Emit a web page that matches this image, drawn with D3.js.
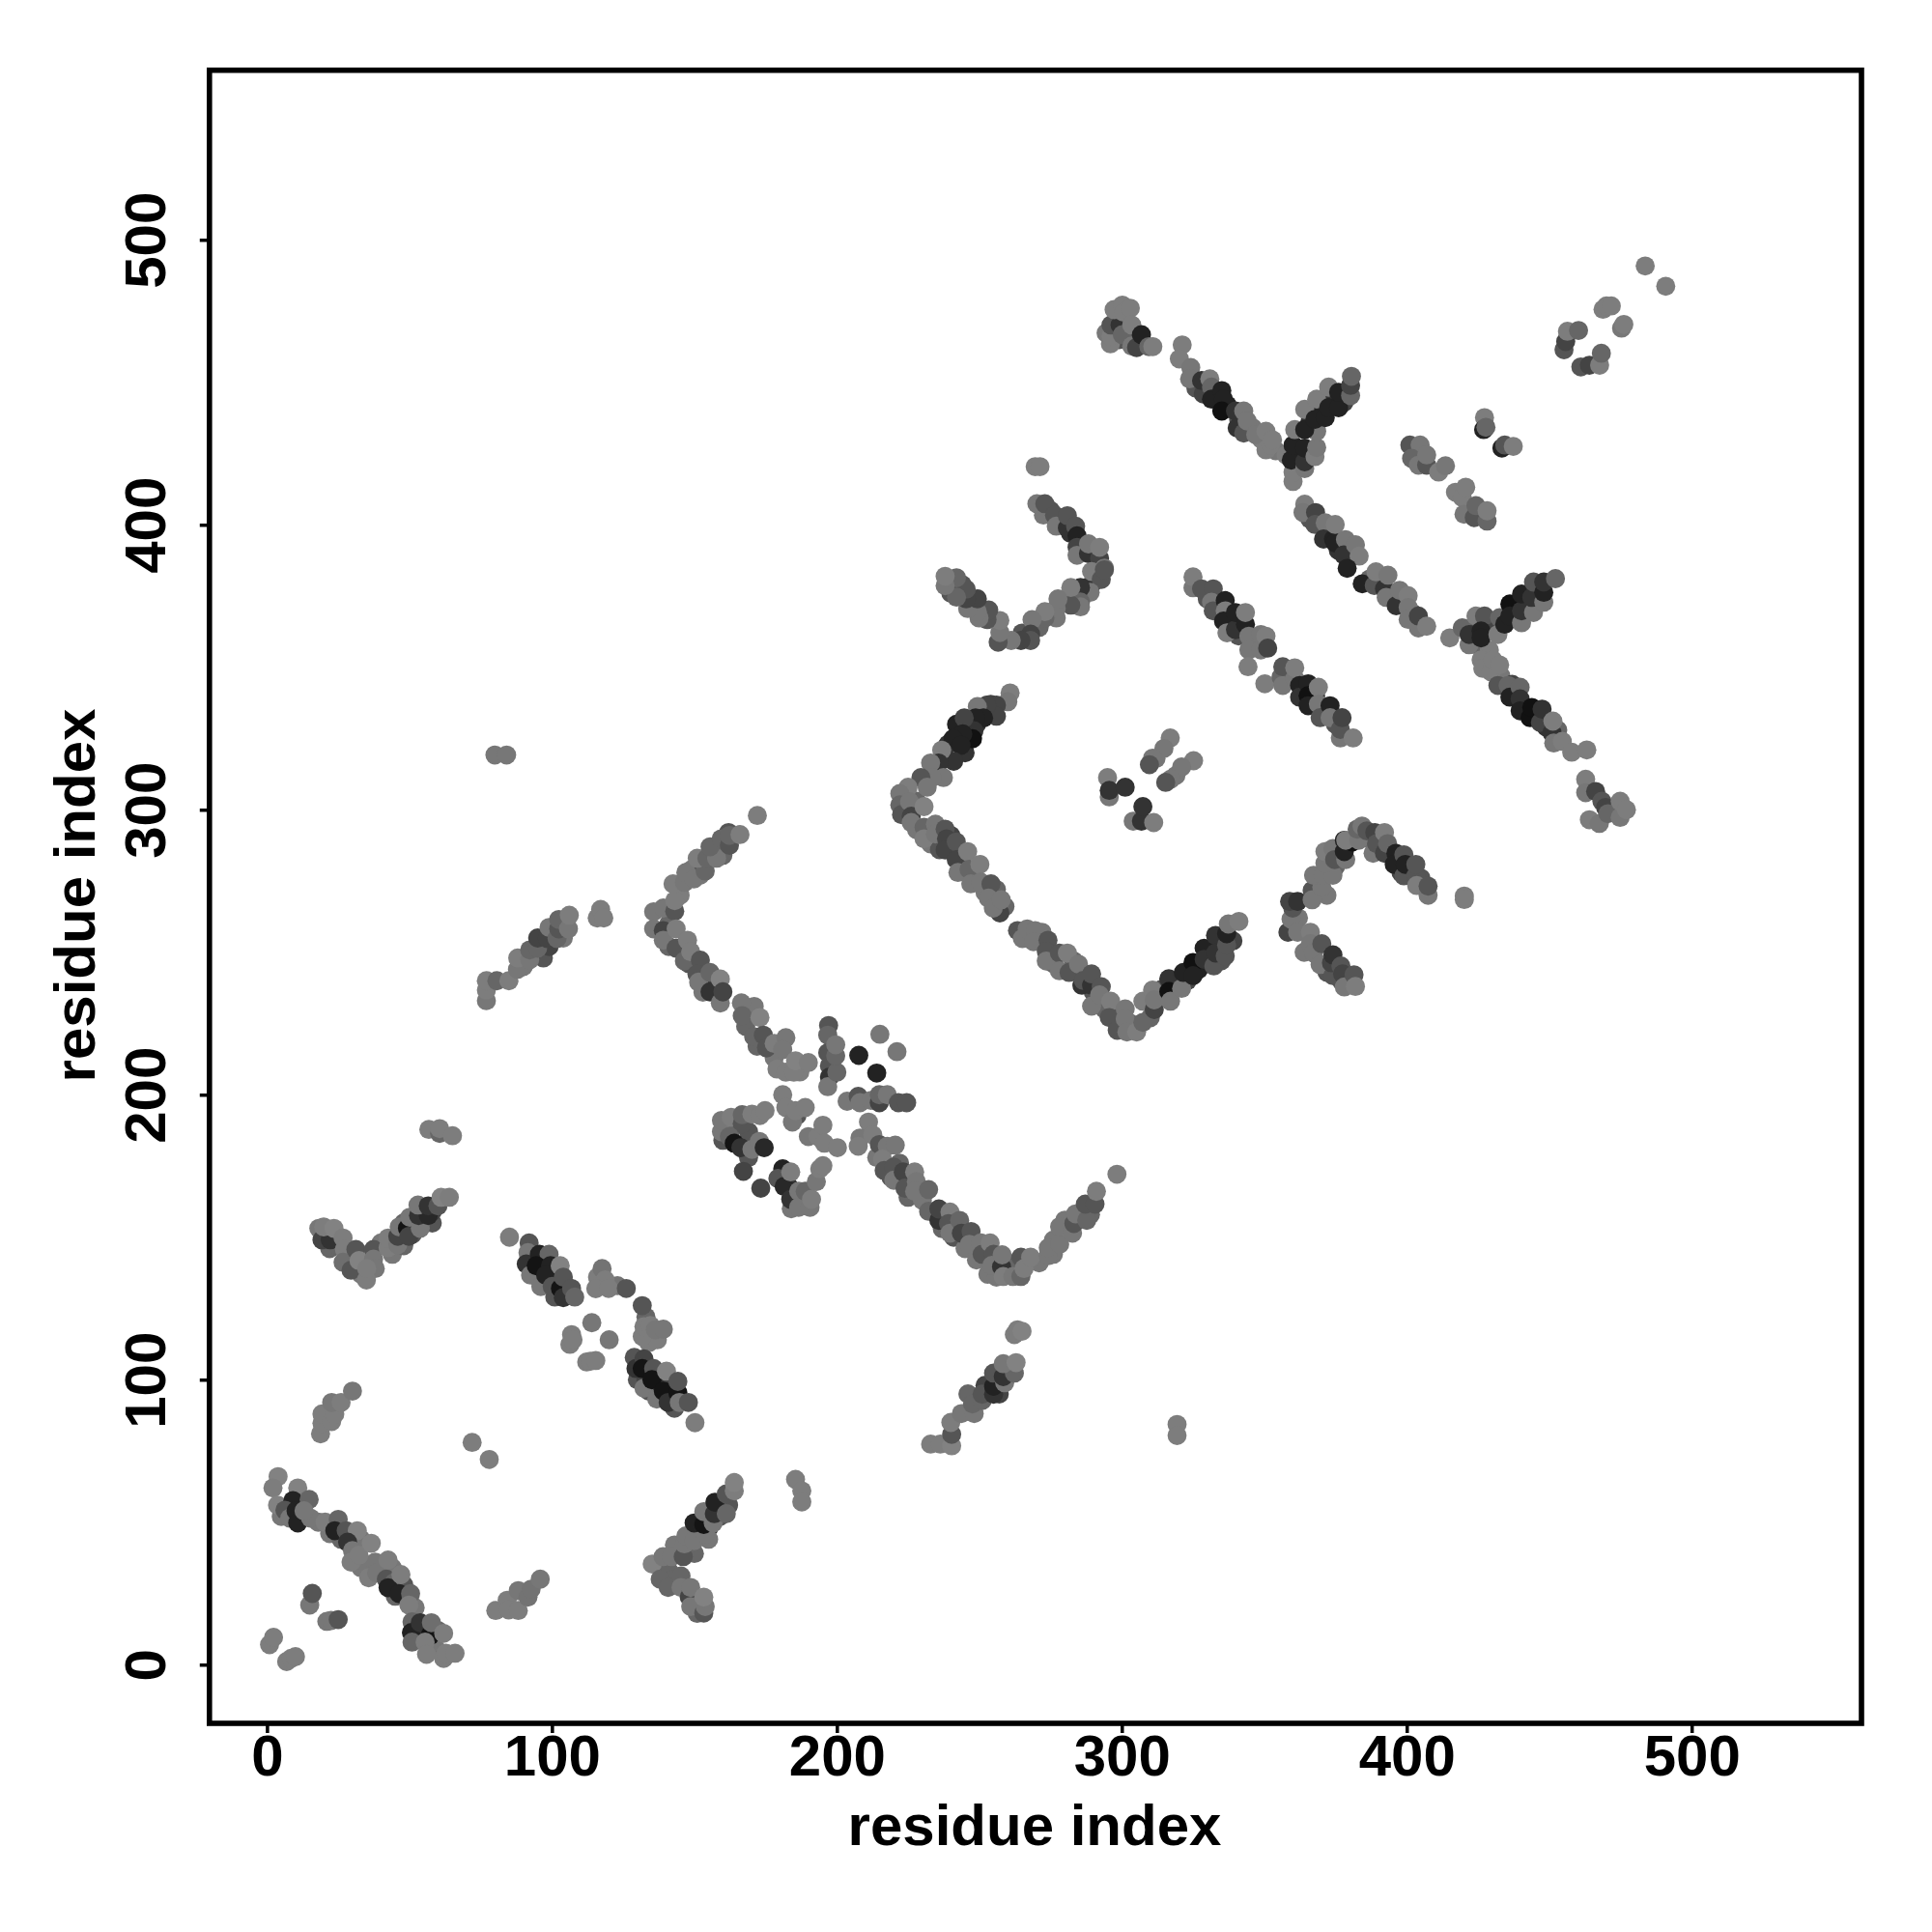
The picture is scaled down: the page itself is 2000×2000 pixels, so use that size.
<!DOCTYPE html>
<html><head><meta charset="utf-8">
<script src="https://cdn.jsdelivr.net/npm/d3@7/dist/d3.min.js"></script>
<style>html,body{margin:0;padding:0;background:#fff}svg{display:block}</style>
</head><body><svg id="c" width="2000" height="2000"></svg>
<script>
// contacts: [residue i, residue j, grey level]
const contactsUnder=[[5,52,119],[12,52,102],[18,50,119],[22,46,119],[26,44,102],[33,44,119],[33,34,119],[38,36,119],[44,34,119],[45,24,102],[48,28,85],[52,20,119],[53,11,102],[59,6,119],[60,12,102],[22,146,102],[29,142,119],[33,137,119],[40,148,119],[44,144,119],[48,147,102],[51,151,85],[48,155,102],[58,155,85],[58,159,68],[21,150,85],[25,147,102],[93,142,68],[97,142,51],[95,136,85],[99,136,68],[102,136,51],[101,129,85],[105,133,85],[116,136,125],[123,133,115],[133,122,102],[134,113,125],[137,114,125],[130,100,85],[133,100,68],[134,96,85],[138,98,51],[142,98,68],[141,95,34],[143,90,85],[141,33,102],[143,42,119],[150,39,102],[143,30,102],[151,23,102],[151,18,102],[151,47,85],[155,48,51],[155,44,119],[159,52,85],[159,56,68],[162,56,85],[90,245,119],[97,248,85],[99,252,68],[104,255,119],[141,260,102],[141,252,102],[146,252,85],[148,246,85],[150,248,119],[154,240,85],[157,239,51],[153,236,119],[145,270,125],[149,279,119],[152,277,119],[153,281,85],[158,286,102],[160,284,102],[162,292,85],[168,224,102],[171,231,119],[172,217,102],[178,213,119],[179,209,125],[187,208,125],[163,188,102],[169,187,85],[160,184,85],[169,178,85],[183,168,51],[186,163,85],[189,161,102],[184,160,119],[214,178,119],[219,171,85],[222,176,102],[225,164,102],[230,163,119],[237,153,102],[241,150,85],[245,146,119],[249,142,119],[253,137,119],[256,136,119],[260,141,85],[262,139,102],[271,141,119],[276,149,119],[280,156,119],[285,158,102],[289,158,102],[276,144,119],[246,95,102],[252,98,68],[257,95,68],[254,337,68],[249,330,51],[242,330,34],[245,320,51],[238,318,85],[239,323,51],[228,303,102],[224,300,102],[228,293,119],[233,288,119],[236,286,85],[240,291,68],[243,284,85],[248,277,102],[252,271,119],[256,272,102],[259,266,102],[272,257,119],[276,246,102],[283,247,102],[290,236,85],[294,230,102],[299,228,85],[303,225,102],[310,227,102],[314,237,85],[319,239,51],[323,240,68],[327,244,34],[331,249,51],[335,247,85],[334,254,51],[339,254,68],[362,262,119],[364,250,119],[372,243,85],[377,240,85],[372,270,119],[375,280,102],[388,289,102],[398,278,68],[401,279,85],[405,276,85],[330,374,85],[334,371,68],[338,366,51],[341,361,85],[346,359,119],[358,348,102],[364,342,51],[368,340,51],[371,334,68],[375,330,85],[366,402,85],[372,398,85],[376,391,51],[387,381,102],[391,380,85],[395,375,102],[399,373,119],[402,369,85],[423,364,85],[424,358,102],[429,364,68],[438,370,34],[442,372,51],[446,376,51],[429,356,125],[433,347,119],[437,344,68],[441,336,34],[445,333,34],[449,329,51],[453,328,102],[326,448,85],[333,446,51],[337,442,34],[341,437,85],[346,434,119],[349,430,125],[354,426,119],[362,424,34],[366,424,68],[366,436,51],[370,440,34],[374,444,51],[378,443,68],[240,376,85],[244,379,85],[248,371,85],[251,369,85],[265,362,85],[271,364,102],[275,369,119],[280,373,119],[284,375,85],[288,378,68],[291,384,102],[275,405,85],[279,401,68],[282,397,51],[286,392,68],[299,465,85],[302,467,68],[304,465,68],[312,318,119],[319,312,119]];
const contactsA=[[3.9,66,130],[2.1,62,125],[3.7,56,130],[10.8,62,130],[9.1,57.6,34],[6.3,54.2,85],[8,51.4,119],[10.2,54,34],[10.8,49.7,34],[14.8,58,102],[15.3,51.4,119],[13,54,119],[20.4,50,125],[25,51,102],[23.8,47,34],[27.8,47,85],[31.7,47,130],[28.3,43,51],[30,40,119],[29.5,36,125],[32.3,38.4,125],[36.6,42.6,130],[35.7,30.5,125],[38.5,32.2,119],[41.9,30,85],[42.5,36.7,125],[44.7,28.8,102],[42.5,27,34],[46.4,24.9,34],[47,31.6,125],[50.4,24.9,102],[49.8,20.9,125],[50.9,15,102],[50.7,11.3,34],[50.9,7.9,102],[53.8,14.7,51],[57.2,10.2,20],[57.7,14.7,110],[55.5,7.9,125],[62,11,125],[56,3.6,125],[62,2.2,125],[62.8,4,125],[66,4,125]];
const contactsB=[[15,20.9,119],[15.9,25,85],[21,15.2,119],[22.5,15.5,119],[25,15.8,85],[0.9,7,125],[2.3,9.6,125],[6.9,1.1,125],[8.5,2.2,125],[10,2.8,125],[18.8,81,125],[19.3,84.7,125],[19.3,88,125],[22.7,85.3,125],[23.8,88,125],[22.7,92,119],[26,92,125],[30,96,119],[72,78,125],[78,72,125],[80.3,19,125],[84.3,22.6,125],[84.8,19.2,125],[88.2,19,125],[88.2,26,119],[91.6,23.7,115],[92.7,26.5,115],[95.9,30,119]];
const contactsC=[[18.2,153.1,119],[19.3,149.1,68],[22.2,149.1,51],[19.9,153.6,125],[23.5,153.1,130],[26.7,149.7,125],[27.2,145.7,125],[26.7,141.2,110],[29.5,138.4,85],[31.2,145.7,85],[32.3,141.8,130],[37.4,145.7,85],[37.4,142.3,119],[38,139,119],[34.9,135,125],[35,139,125],[42.5,146.3,125],[42.5,149.7,125],[45.9,147.4,119],[45.9,150.3,68],[46.4,153.6,119],[49.3,153.1,20],[49.8,150.3,68],[50.1,157,119],[53.8,153.1,119],[53.2,157.6,51],[56.6,157.6,40],[53,161.3,119],[56.6,161,51],[60,161,85],[61.1,164,130],[64,164,125],[56.8,187.8,125],[60.6,186.4,102],[60.6,188.1,125],[65.1,185.6,125]];
const contactsD=[[85.1,150,125],[92,148,85],[91.6,144.6,119],[91,140.6,51],[92.5,136.7,119],[95.6,144,34],[99,144,102],[94.5,140,20],[99.5,140,34],[96.1,132.7,119],[97.8,136.7,34],[100.1,132.7,85],[102.9,140,130],[103,132,20],[104,136,85],[104,128.8,51],[106.9,132,85],[108,129,102],[117.6,139,115],[118.7,135,125],[115.4,131.9,125],[119.9,132,125],[126.1,132,85],[131.7,126,85],[131.7,115.2,125],[132.3,118.6,125],[134.6,119,125],[136.3,117.5,119],[139.1,117.7,119],[114,120,119],[120.1,114,119],[106.3,112.4,125],[106.9,115.8,125],[107.4,114,125],[112.2,106.2,125],[113.5,106.5,125],[115.4,106.7,125],[128.9,107.8,85],[129.5,103.9,51],[132.3,107.3,68],[131.7,103.9,20],[132.3,97,119],[135.7,103.9,85],[135.1,100,20],[136.8,93.2,119],[139.1,96,20],[140.2,103,130],[140.8,92,51],[144.2,95.4,20],[144.2,99.4,85],[144.7,92,119],[147.9,92,85],[150.2,84.9,125]];
const contactsE=[[135.2,35.3,130],[139,37.9,119],[142,37.9,119],[146.1,37.9,85],[138,30,102],[140.8,27.1,102],[145.3,31.1,102],[145.3,27.1,119],[148.2,23.7,68],[148.7,27.1,119],[148.7,20.4,119],[153.3,18.1,85],[153.8,20.4,119],[153.3,23.7,130],[146.5,42.4,119],[147,45.2,119],[149.9,43.5,119],[153.8,45.8,119],[149.9,49.7,34],[153.3,49.2,20],[153.3,53.7,119],[156.6,49.7,119],[157,53,51],[157.2,57,34],[161.2,53,102],[161.2,59.9,85],[164,61,125],[164,63.9,130],[185.5,65,125],[187.7,61,125],[187.7,57.1,125]];
const contactsF=[[77,233,119],[77,236.7,125],[77,240,125],[80.7,240,102],[84.9,240,125],[87.9,244,119],[88,248,125],[92.2,247.4,119],[92.2,250.8,102],[95,251.4,102],[95,255,68],[98.4,254.8,68],[99,258.7,119],[101.8,254.8,102],[102.4,258.2,85],[102.4,261.5,102],[105.8,258.2,119],[106.1,263,125],[115.9,262,125],[117.1,265,125],[118.2,262,125],[80,319.2,119],[84.1,319.2,119],[135.7,264.2,119],[135.7,258.2,119],[139.1,265.5,119],[139.1,257.6,68],[139.1,254.2,119],[143.1,264.4,85],[143.1,268.1,125],[143.6,258.2,125],[143.6,251.4,85],[146.5,246.9,102],[147.6,254.2,125],[148.7,250.2,125],[152.1,247.2,85],[150.9,242.3,85],[151.5,239.5,119],[155.5,242.9,102],[155.5,236.1,51],[159.1,232.2,119],[159.1,240.6,130],[160,236.1,68],[142.5,274,125],[146.5,274.5,119],[147,278,119],[149.8,275.7,119],[153.8,278.5,102],[151,283,125],[154.4,283,102],[157.8,283,119],[155.5,287,102],[159.4,289.8,102],[162.3,287.5,85],[162.3,291,102],[166,291.3,125],[172.1,298,125]];
const contactsG=[[166.5,232.2,119],[166.8,227.7,102],[173,227.1,130],[170.8,220.4,102],[174.2,220.9,85],[175.3,216.4,85],[178,218,125],[182.1,220,119],[181,215.8,119],[182.1,207.9,125],[184.9,207.9,125],[185.5,211.9,130],[190,211.3,125],[197.1,224.3,85],[196.8,220.9,102],[196.8,214.7,85],[197.4,210.2,85],[197.4,206.2,51],[196.8,202.8,119],[200,207.9,102],[199.6,213.6,102],[199.6,217.5,119],[207.7,213.8,34],[214,207.6,34],[215.1,221.2,119],[221.1,215.1,119],[203.6,197.7,119],[207.5,199.4,85],[208.1,197.2,119],[212,198,119],[214.9,197.2,68],[214.9,200,102],[217.7,200,119],[221.6,197.2,85],[224.5,197.2,85]];
const contactsH=[[159.5,187,119],[159.5,191,119],[162.9,192.1,125],[166.8,189.8,85],[166.8,193,102],[170.2,193.2,125],[173,192.7,125],[174.8,194.4,125],[162.3,185.3,102],[164,183,20],[166.3,181.4,51],[170.2,180.8,119],[172.8,183.6,119],[174.5,181.4,40],[167.2,173.1,68],[173.3,167.2,68],[181,174,34],[179.3,170.6,85],[181.5,167.8,40],[183.8,163.3,51],[183.8,172.9,125],[186.6,166.1,119],[186.6,160.5,119],[188.9,166.1,102],[190.6,160.5,119],[191.1,163.3,125],[192.8,169.5,119],[194,174,125],[195.1,175.1,125],[181,200,125],[182.1,195.5,125],[186,192.7,85],[184.4,190.4,119],[185.5,194.4,125],[188.9,195.5,125],[190,185.3,119],[193.4,185.3,125],[195.1,189.3,125],[195.6,183,125],[200.2,181.4,125]];
const contactsI=[[211.1,190.4,125],[208.1,184.8,119],[207.5,181.9,125],[212.6,185.9,125],[214.9,182.5,85],[217.7,181.9,119],[220.5,182.3,119],[216,177.4,125],[216.6,173.4,85],[220,174.6,85],[220,170,119],[223.3,172.9,68],[223.9,167.2,85],[227.3,172.9,125],[227.9,169.5,119],[227.3,166.1,119],[232.2,166.7,102],[232.2,159.1,102],[235.8,155.9,51],[235.8,159.9,68],[239.7,158.8,125],[239.2,154.8,85],[239.7,151.4,119],[243.1,155.9,102],[243.7,151.4,68],[247.1,152,85],[246.5,147.5,119],[250.5,148,119],[251,144,85],[253.8,148,125],[255,144,85],[254.4,140.1,119],[257.8,139.6,51],[258,143.8,119],[258.4,136.2,125],[261.8,136.2,119],[264.6,136.2,102],[264.6,143,85],[265.7,139,125],[268,143,125],[274.2,143.5,119],[274.2,146.3,119],[278.2,147.5,119],[278.2,153.7,119],[282.7,151.4,119],[283.2,154.8,85],[283.8,158.2,119],[287.7,155.9,102],[287.2,161.6,85],[290.6,161.6,85],[291.1,166.1,125],[298.3,172.1,125]];
const contactsJ=[[232.9,77.4,125],[236.3,77.4,125],[240.3,76.8,130],[240.3,80.8,85],[240,85,125],[243.7,88.1,119],[248.2,88.1,119],[247.6,91.5,102],[251,92.7,102],[251,94.9,85],[255,94.9,51],[255,97.7,34],[258.9,98.9,119],[255,102.3,85],[258.4,101.1,51],[262.3,102.3,102],[258.4,105.6,119],[262.9,106,130],[262.3,115.8,125],[263.4,117.5,125],[265,117,130],[319.4,84.3,125],[319.4,80.4,125]];
const contactsK=[[260.8,341,125],[260,337.9,119],[256,336.7,68],[256,332.8,68],[252.6,336.7,68],[249.3,336.2,119],[251.5,332.2,34],[248.7,332.2,34],[248.1,327.7,51],[244.7,332.2,68],[247.6,324.9,17],[244.2,326.6,34],[240.8,324.9,34],[243.6,322.6,34],[241,317,51],[236.8,320.9,125],[235.7,316.4,51],[232.9,316.4,119],[237.4,311.3,119],[233.4,311.3,119],[229.5,311.3,85],[231.7,307.9,119],[225,307.9,125],[222.1,305.7,119],[222.1,301.7,102],[222.7,298.3,85],[225.5,302.8,119],[226.1,297.7,68],[226.1,295.5,119],[230.6,293.8,102],[230.6,289.8,125],[230.6,301.1,130],[234.6,294.9,119],[234.6,291.5,119],[238,293.2,85],[238.5,289.8,68],[238,285.9,68],[241.9,288.7,85],[241.9,282.5,68],[242.5,278,119],[245.9,285.3,125],[246.4,279.1,102],[247,274,119],[250.2,280.8,125],[250.4,274.6,119],[254.1,274,85],[253.2,269,119],[257.2,263.8,68],[254.9,265.5,119],[257.7,268.4,119]];
const contactsL=[[263.4,257.6,85],[265.1,254.8,119],[266.8,258.2,119],[269.6,257.6,119],[269,253.7,119],[274.1,254.2,85],[273.5,250.3,85],[273.5,246.9,119],[278.1,249.7,85],[278.1,243.5,119],[281.5,242.9,85],[280.9,249.7,125],[284.8,245.8,119],[286,238.4,51],[286.5,240.1,85],[289.4,238.4,51],[289.4,242.4,85],[292.8,237.9,85],[289.4,231.1,119],[292.2,235,119],[296.1,232.8,125],[295.6,227.1,85],[298.4,222.6,85],[301.2,230.1,119],[301.2,226.6,119],[301.8,222,119],[305.2,222,125],[307.4,225.4,102],[307.4,232.8,125],[311.4,229.9,68],[310.8,236.7,125],[311.4,233.3,119],[316.5,240.7,51],[316.5,236.2,17],[317.1,232.8,119],[321,237.3,119],[321.6,242.9,34],[325,246.4,17],[325,241.8,34],[328.9,251.4,34],[328.9,247.5,51],[332.3,245.2,85],[332.9,255.9,51],[332.9,249.7,51],[336.3,248.6,85],[336.8,252.5,85],[336.8,256.5,34],[337.4,259.9,119],[341.1,260.8,125]];
const contactsM=[[317,325.2,125],[314.8,321.5,119],[310.8,318.1,119],[309.7,315.8,85],[325.2,317.2,125],[321,315,119],[317.1,310.7,119],[315.4,309.6,85],[295,311.3,125],[295.6,304.5,119],[295.6,306.8,51],[301.2,307.9,51],[304,296,119],[306.9,296,51],[307.4,301.1,51],[311.2,295.5,125]];
const contactsN=[[358.3,257,68],[359.4,261.6,119],[360,265.5,85],[358.9,267.8,68],[361.7,267.8,51],[361.7,257,119],[366.2,257,125],[366.2,253,119],[367.3,249.7,119],[366.8,271.7,85],[366.8,268.4,119],[369.6,245.7,119],[370.2,253,85],[374.1,241.8,85],[373.6,246.3,68],[374.1,249.1,51],[376.9,245.2,85],[377.5,242.4,68],[378.1,237.8,119],[381.5,242.1,85],[382,238,125],[370.2,272.9,119],[367.3,277,119],[370.7,277,119],[374.1,277,119],[371.3,281.3,119],[371.3,285.3,125],[374.1,286.4,119],[374.7,282.5,85],[378.6,282.5,119],[378.1,285.3,34],[378.1,289.3,34],[380.9,288.7,17],[378.6,289.3,125],[383.2,289.3,119],[382.6,293.2,102],[384.3,294.3,119],[386,292.6,85],[388.8,292,68],[388.2,284.7,119],[389.4,288.1,85],[392.2,284.7,68],[392.2,292,125],[393.3,288.1,102],[396.2,284.7,34],[395.6,280.8,34],[399,276.8,85],[399,284.2,85],[399.5,280.8,34],[403.2,276.8,85],[403.2,280.8,85],[403.5,273.4,125],[407.5,270,119],[407.5,273.2,85],[420.2,269.7,125],[420.2,268.5,125]];
const contactsO=[[325,377.9,119],[325,381.7,125],[328,377.5,85],[332.1,377.5,85],[331.5,372.8,119],[332.1,369.8,85],[336.3,373.4,34],[336.3,369.8,125],[335.7,366.2,34],[336.9,362.1,125],[339.9,363.2,51],[339.9,369.2,34],[343.4,365.1,34],[343.4,369.2,125],[344.6,360.9,119],[344.6,356.1,119],[348.8,356.1,119],[348.8,361.5,119],[350.6,360.9,125],[351.2,356.7,68],[344.3,350.2,125],[350.2,344.2,125],[355.9,346.6,102],[356.5,343.6,119],[356.5,350.2,85],[360.7,346,119],[360.7,349.8,125],[362.4,343.6,34],[362.4,339.5,51],[365.4,344.2,34],[365.4,340,17],[365.4,336.5,34],[369,343,125],[369,337.1,119],[369.6,332.3,85],[373.1,336.5,34],[373.1,332.3,119],[376.7,325.2,119],[376.7,328.2,85],[377.3,332.3,68],[381.2,325.2,125]];
const contactsP=[[364.2,407.2,125],[363.6,404.3,119],[368,404.3,68],[367.8,400.1,85],[371.4,400.7,119],[370.8,395,51],[374.3,395,34],[374.9,393.6,34],[374.9,400.1,125],[378.5,394.8,119],[377.9,389.4,51],[382,393,119],[383.3,389,125],[379.1,384.7,34],[384.4,379.3,34],[388.6,378.7,85],[389.2,383.5,125],[392.2,377.5,51],[392.8,374.5,119],[393.4,382.3,119],[396.3,371.6,51],[397.5,377,119],[400.5,375.1,125],[400.5,371,119],[400.5,366.8,119],[404.1,363.8,119],[404.1,368,68],[407,364.4,125]];
const contactsQ=[[415.1,360.3,125],[419.5,363.8,102],[421.9,357.9,119],[421.9,361.5,51],[424.3,368,125],[427.3,368,85],[426.1,362.7,34],[426.1,360.3,34],[432,361.5,125],[432.6,367.4,102],[434.4,365.1,34],[436.2,372.2,17],[436.2,368,34],[440.3,365.6,119],[440.3,369.8,51],[440.3,375.7,34],[444.5,369.2,119],[443.9,374.5,51],[444.5,379.9,85],[448.1,372.8,119],[448.1,376.3,34],[448.1,379.9,51],[452.2,381.1,102],[426.1,352.6,125],[426.7,349.6,125],[429.6,348.4,125],[430.2,352.6,125],[432.6,350.8,125],[432,343.6,85],[435.6,343.6,102],[436.2,339.5,34],[439.8,343,102],[439.8,338.9,51],[439.8,334.7,34],[443.3,332.3,17],[443.9,335.9,17],[446.9,330.6,68],[447.5,335.3,51],[451,327,51],[451.3,331.1,125],[451.6,323.4,119],[454.6,324,125],[457.9,320.2,125],[463.2,321,125],[462.8,310.7,125],[462.8,306,119],[464.1,296.5,125],[466.3,306.4,68],[468.5,303,85],[469.8,300.8,68],[467.6,295.2,119],[470.6,298.6,102],[474.9,297.3,119],[474.9,303,125],[477.1,300,125]];
const contactsR=[[321.2,463.1,125],[320.2,458.2,125],[324.2,455.2,119],[323.8,451.2,119],[328.6,445.9,68],[328,450.6,51],[330.9,451.2,125],[331.5,448.3,102],[331.5,444.1,34],[335.1,447.1,34],[335.7,444.1,34],[335.1,439.9,17],[339.9,439.9,51],[340.5,434,51],[342.8,439.9,119],[342.8,432.2,85],[344,436.4,119],[347,431.6,119],[350.6,426.3,125],[350.6,432.8,125],[352.3,428,125],[352.9,429.8,125],[357.7,424.5,125],[360.1,415.2,125],[360.1,418.5,125],[359.5,422.7,34],[360.1,428,34],[360.7,433.4,125],[364.2,419.7,119],[364.2,422.1,51],[364.2,426.9,34],[367.8,423.9,125],[368.4,427.1,119],[368.4,432.8,119],[364.2,433.4,34],[364.2,440.5,125],[367.8,437,34],[371.4,437.6,34],[368.4,444.1,125],[372.6,441.1,34],[372.6,448.3,125],[376.1,441.1,34],[376.1,446.5,34],[380.3,445.3,102],[380.3,448.9,68],[380.6,452.1,102]];
const contactsS=[[296,463.5,125],[294.5,467.3,119],[296.2,466.1,125],[296.2,470.1,85],[299.4,470.1,51],[300.2,466.7,102],[297.3,475.5,125],[300.2,477.1,125],[300.7,474.6,125],[303,476,125],[303.5,470.1,125],[303.5,462.7,119],[305.2,462.2,68],[306.9,466.7,34],[309.5,462.5,102],[310.9,462.5,125],[269.6,420.4,125],[271.3,420.4,125],[270.2,407.4,119],[272.5,403.4,119],[273,407.4,85],[276.4,403.4,85],[277,399.5,119],[280.9,398.9,51],[280.9,403.2,85],[283.8,399.5,85],[284.3,396.1,34],[284.3,392.1,68],[284.3,389.3,119],[288.3,389.9,51],[288.3,393.3,119],[292.2,388.2,68],[292.2,392.1,125],[289.4,379.1,51],[289.4,383.6,125],[292.8,380.8,85],[293.9,384.8,119],[293.9,384.2,85],[288.9,376.3,119],[285.5,378,51],[285.5,372.9,102],[285.5,371.2,119],[282.1,371.8,85],[282.1,378,125],[277,367.3,119],[277,370.6,119],[277.6,374,119],[273,367.3,102],[273,369.5,125],[268.5,366.7,119],[268,361.6,68],[268,359.4,85],[264.6,359.4,68],[261.2,359.4,119],[256.6,358.8,85],[257.2,362.2,119],[257.2,366.4,125],[252.7,366.7,85],[253.3,370.1,85],[249.9,367.3,119],[249.3,369.5,119],[245.9,370.6,119],[249.3,374,68],[245.4,374,68],[245.4,377.4,85],[242,374.6,102],[242,381.4,102],[238,378.6,119],[238,381.9,125]];
const contactsT=[[401.1,428,85],[404.7,428,119],[401.7,423.3,102],[404.1,420.9,119],[407,420.9,85],[407,424.5,119],[411.2,418.5,125],[413.6,420.7,119],[417.1,411.4,125],[419.5,409.6,125],[420.7,413.2,125],[420.1,403.7,119],[423.7,402.5,85],[424.3,406.7,102],[428.2,401.3,102],[428.2,404.9,125],[427.3,437.6,125],[427,433.4,34],[427.8,434.2,102],[433.4,426.9,34],[434.4,428,85],[437.4,427.5,125],[455.2,461.4,85],[455.8,464.3,68],[456.4,467.9,125],[460.3,468.2,102],[461.1,455.4,85],[464.1,456,68],[467.7,456,125],[468.3,460.2,102],[468.9,475.6,125],[470.1,476.8,125],[471.8,476.8,125],[475.4,469,119],[476.2,470.3,125],[483.7,490.8,125],[490.9,483.7,125]];

const xTicks=[0,100,200,300,400,500];
const yTicks=[0,100,200,300,400,500];
const axisTitle="residue index";

const contacts=[contactsUnder,contactsA,contactsB,contactsC,contactsD,contactsE,contactsF,contactsG,contactsH,contactsI,contactsJ,contactsK,contactsL,contactsM,contactsN,contactsO,contactsP,contactsQ,contactsR,contactsS,contactsT].flat();

const svg=d3.select("#c");
const x=d3.scaleLinear().domain([-20.2,559.6]).range([216.8,1927]);
const y=d3.scaleLinear().domain([-20.6,559.5]).range([1784,72.7]);
const font='"Liberation Sans",Arial,sans-serif';

svg.append("g").selectAll("circle").data(contacts).join("circle")
  .attr("cx",d=>x(d[0])).attr("cy",d=>y(d[1])).attr("r",9.9)
  .attr("fill",d=>d3.rgb(d[2],d[2],d[2]));

svg.append("rect").attr("x",x.range()[0]).attr("y",y.range()[1])
  .attr("width",x.range()[1]-x.range()[0]).attr("height",y.range()[0]-y.range()[1])
  .attr("fill","none").attr("stroke","#000").attr("stroke-width",5.6);

const gx=svg.append("g").attr("transform",`translate(0,${y.range()[0]})`)
  .call(d3.axisBottom(x).tickValues(xTicks).tickSize(10).tickPadding(0).tickFormat(d3.format("d")));
const gy=svg.append("g").attr("transform",`translate(${x.range()[0]},0)`)
  .call(d3.axisLeft(y).tickValues(yTicks).tickSize(10).tickPadding(0).tickFormat(d3.format("d")));
[gx,gy].forEach(g=>{g.select(".domain").remove();
  g.selectAll(".tick line").attr("stroke","#000").attr("stroke-width",3.5);
  g.selectAll("text").attr("fill","#000").attr("font-family",font).attr("font-weight",700).attr("font-size",60);});
gx.selectAll("text").attr("y",54).attr("dy",0).attr("text-anchor","middle");
gy.selectAll("text").attr("x",0).attr("dy",0).attr("text-anchor","middle")
  .attr("transform","translate(-46,0) rotate(-90)");

svg.append("text").attr("x",1071).attr("y",1910).attr("text-anchor","middle")
  .attr("font-family",font).attr("font-weight",700).attr("font-size",60).text(axisTitle);
svg.append("text").attr("transform","translate(98,927) rotate(-90)").attr("text-anchor","middle")
  .attr("font-family",font).attr("font-weight",700).attr("font-size",60).text(axisTitle);
</script></body></html>
